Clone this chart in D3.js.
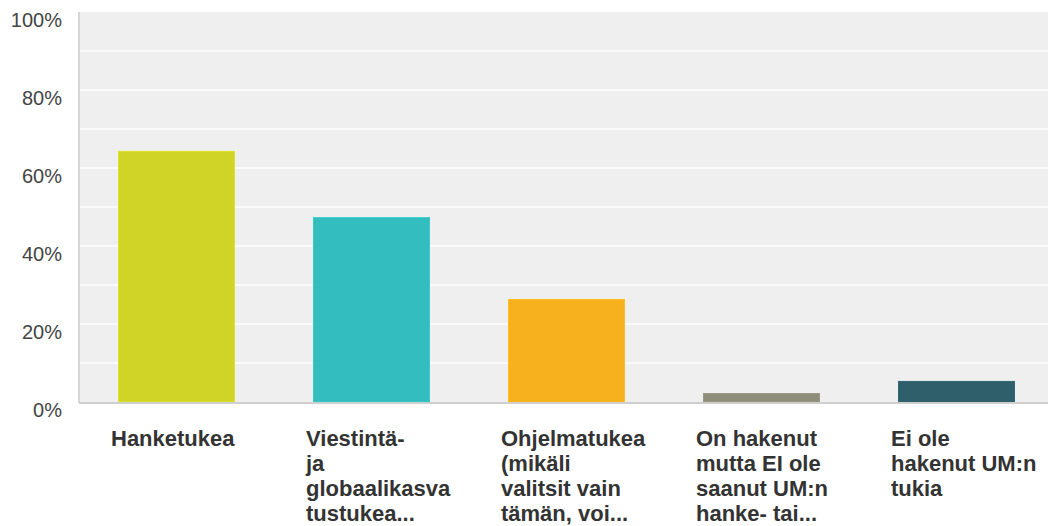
<!DOCTYPE html>
<html lang="fi">
<head>
<meta charset="UTF-8">
<title>Tuet</title>
<script src="https://d3js.org/d3.v7.min.js"></script>
<style>
  body { margin: 0; background: #fff; }
  svg { display: block; font-family: "Liberation Sans", Arial, sans-serif; }
  .ylab { font-size: 20px; fill: #444; }
  .xlab { font-size: 22px; font-weight: bold; fill: #333; }
</style>
</head>
<body>
<svg></svg>
<script>
const categories = [
  ["Hanketukea"],
  ["Viestintä-", "ja", "globaalikasva", "tustukea..."],
  ["Ohjelmatukea", "(mikäli", "valitsit vain", "tämän, voi..."],
  ["On hakenut", "mutta EI ole", "saanut UM:n", "hanke- tai..."],
  ["Ei ole", "hakenut UM:n", "tukia"]
]
const values = [64.4, 47.4, 26.4, 2.3, 5.4]
const colors = ["#cfd427", "#33bdbf", "#f7b11e", "#8e8e7a", "#2e5f6b"]
const yTicks = [0, 20, 40, 60, 80, 100]

const [width, height] = [1048, 526]
const margin = {left: 79, top: 12, right: 0, bottom: 124}
const svg = d3.select("svg").attr("width", width).attr("height", height)

const x = d3.scaleBand().domain(d3.range(values.length))
    .range([margin.left, margin.left + 975]).paddingInner(0.4).paddingOuter(0.2)
const y = d3.scaleLinear().domain([0, 100]).range([height - margin.bottom, margin.top])

// plot background
svg.append("rect")
    .attr("x", margin.left).attr("y", y(100))
    .attr("width", width - margin.left).attr("height", y(0) - y(100))
    .attr("fill", "#efefef")

// white grid every 10%
svg.selectAll(".grid").data(d3.range(10, 100, 10)).join("line")
    .attr("x1", margin.left).attr("x2", width)
    .attr("y1", d => y(d)).attr("y2", d => y(d))
    .attr("stroke", "#fafafa").attr("stroke-width", 2)

// bars
svg.selectAll(".bar").data(values).join("rect")
    .attr("x", (d, i) => x(i) + 0.5).attr("width", x.bandwidth() - 1)
    .attr("y", d => y(d) + 0.5).attr("height", d => y(0) - y(d) - 0.5)
    .attr("fill", (d, i) => colors[i])
    .attr("stroke", (d, i) => d3.color(colors[i]).brighter(0.2))
    .attr("stroke-width", 1)

// axis lines
svg.append("line").attr("x1", margin.left).attr("x2", margin.left)
    .attr("y1", y(100)).attr("y2", y(0) + 1)
    .attr("stroke", "#d6d6d6").attr("stroke-width", 2)
svg.append("line").attr("x1", margin.left).attr("x2", width)
    .attr("y1", y(0) + 1).attr("y2", y(0) + 1)
    .attr("stroke", "#cfcfcf").attr("stroke-width", 2)

// y labels
svg.selectAll(".ylab").data(yTicks).join("text")
    .attr("class", "ylab")
    .attr("x", 62).attr("y", d => y(d) + 8)
    .attr("dy", "0.35em").attr("text-anchor", "end")
    .text(d => d + "%")

// category labels
const xl = svg.selectAll(".xlab").data(categories).join("text")
    .attr("class", "xlab")
    .attr("x", (d, i) => x(i) - 7).attr("y", 446)
xl.selectAll("tspan").data(d => d).join("tspan")
    .attr("x", function() { return this.parentNode.getAttribute("x") })
    .attr("dy", (d, i) => i ? 25 : 0)
    .text(d => d)
</script>
</body>
</html>
